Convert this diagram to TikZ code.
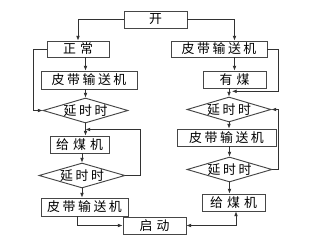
\documentclass[tikz,border=0pt]{standalone}
\usepackage{fontspec}
\usepackage{tikz}
\usetikzlibrary{arrows.meta, shapes.geometric, calc}
\newfontfamily\cjk[LetterSpace=20]{Noto Sans CJK SC}
\definecolor{linecol}{RGB}{50,50,50}
\definecolor{boxcol}{RGB}{70,70,70}
\newcommand{\gp}{\hspace{3.5pt}}

\begin{document}
\begin{tikzpicture}[x=0.3mm, y=-0.3mm,
    box/.style 2 args={draw=boxcol, line width=0.8pt, rectangle, inner sep=0pt,
        minimum width=#1*0.3mm, minimum height=#2*0.3mm,
        font=\cjk\fontsize{11}{12}\selectfont},
    dia/.style 2 args={draw=boxcol, line width=0.8pt, diamond, aspect=3.4, inner sep=0pt,
        minimum width=#1*0.3mm, minimum height=#2*0.3mm,
        font=\cjk\fontsize{11}{12}\selectfont},
    arr/.style={draw=linecol, line width=0.6pt, -{Latex[length=4pt,width=3.2pt]}},
    dblarr/.style={draw=linecol, line width=0.6pt, {Latex[length=4pt,width=3.2pt]}-{Latex[length=4pt,width=3.2pt]}}]
    \useasboundingbox (0,0) rectangle (310,243);

    % --- Inicio ---
    \node[box={63}{17}] (kai) at (155.5,19.5) {开\hspace{7pt}};

    % --- Coluna esquerda ---
    \node[box={62}{16}] (zc) at (78,49) {正\gp 常\hspace{13pt}};
    \node[box={96}{18}] (b1) at (89,80) {皮带输送机};
    \node[dia={85}{25}] (d1) at (85.5,110.5) {\makebox[0pt]{延时时}};
    \node[box={59}{17}] (g1) at (79.5,144.5) {给\gp 煤\gp 机};
    \node[dia={86}{25}] (d2) at (82,175.5) {\makebox[0pt]{延时时}};
    \node[box={87}{18}] (b3) at (84.5,207) {皮带输送机};

    % --- Coluna direita ---
    \node[box={96}{16}] (b2) at (219,49) {皮带输送机};
    \node[box={63}{17}] (ym) at (234.5,79.5) {有\gp 煤\hspace{9pt}};
    \node[dia={84}{25}] (d3) at (229,109.5) {\makebox[0pt]{延时时}};
    \node[box={99}{17}] (b4) at (226.5,137.5) {皮带输送机};
    \node[dia={85}{25}] (d4) at (229.5,169.5) {\makebox[0pt]{延时时}};
    \node[box={63}{17}] (g2) at (233.5,202.5) {给\gp 煤\gp 机};

    % --- Fim ---
    \node[box={63}{17}] (qd) at (154.5,225.5) {启\gp 动\hspace{9pt}};

    % --- Juncoes ---
    \coordinate (j1) at ($(d1.south)!0.5!(d1.south |- g1.north)$);
    \coordinate (j2) at ($(ym.south -| 232,0)!0.35!(d3.north -| 232,0)$);

    % --- Ligacoes esquerda ---
    \draw[arr] (kai.west) -| (zc.north);
    \draw[arr] (zc.south -| d1.north) -- (b1.north -| d1.north);
    \draw[arr] (b1.south -| d1.north) -- (d1.north);
    \draw[arr] (zc.west) -- ++(-13,0) |- (d1.west);
    \draw[arr] (d1.south) -- (g1.north -| d1.south);
    \draw[arr] (g1.south -| d2.north) -- (d2.north);
    \draw[arr] (d2.east) -- ++(15,0) |- (j1);
    \draw[arr] (d2.south) -- (b3.north -| d2.south);
    \draw[arr] ($(b3.south)+(-7.5,0)$) |- (qd.west);

    % --- Ligacoes direita ---
    \draw[arr] (kai.east) -| (ym.north |- b2.north);
    \draw[arr] (b2.south -| ym.north) -- (ym.north);
    \draw[arr] (ym.south -| d3.north) -- (d3.north);
    \draw[arr] (b2.east) -- ++(11,0) |- (j2);
    \draw[arr] (d3.south) -- (b4.north -| d3.south);
    \draw[arr] (b4.south -| d4.north) -- (d4.north);
    \draw[arr] (d4.east) -- ++(6,0) |- (d3.east);
    \draw[arr] (d4.south) -- (g2.north -| d4.south);
    \draw[dblarr] (qd.east) -| ($(g2.south)+(2.5,0)$);
\end{tikzpicture}
\end{document}
